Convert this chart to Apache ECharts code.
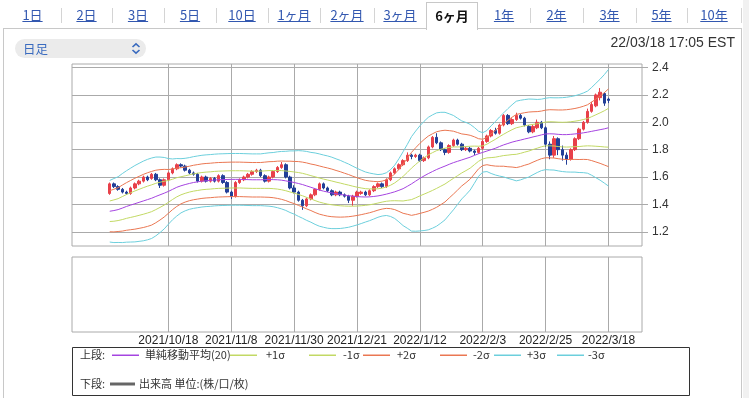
<!DOCTYPE html>
<html lang="ja">
<head>
<meta charset="utf-8">
<title>6ヶ月 日足チャート</title>
<script src="https://cdn.jsdelivr.net/npm/echarts@6.0.0/dist/echarts.min.js"></script>
<style>
html,body{margin:0;padding:0;background:#fff}
body{position:relative;width:749px;height:398px;overflow:hidden;font-family:"Noto Sans CJK JP","Liberation Sans",sans-serif}
#frame{position:absolute;left:3px;top:28px;width:739px;height:400px;border:1px solid #c8c8c8;box-sizing:border-box;z-index:0}
#edge{position:absolute;left:743px;top:0;width:6px;height:398px;background:#f1f1f1}
#chart{position:absolute;left:0;top:0;width:749px;height:398px;z-index:1}
.tab{position:absolute;top:5px;height:20px;line-height:20px;text-align:center;font-size:13px;color:#3358b0;text-decoration:underline;white-space:nowrap;z-index:2}
.tab.on{top:2px;height:27px;line-height:25px;background:#fff;border:1px solid #c8c8c8;border-bottom:0;color:#111;font-weight:bold;text-decoration:none}
.sep{position:absolute;top:8px;width:1px;height:15px;background:#d4d4d4;z-index:2}
#pick{position:absolute;left:15px;top:39px;width:131px;height:19px;border-radius:10px;background:#ebebeb;z-index:3}
#pick span{position:absolute;left:8px;top:0;line-height:19px;font-size:12.5px;color:#3a6bbf}
#pick svg{position:absolute;left:115px;top:3px}
#stamp{position:absolute;right:14px;top:34px;font-size:14px;line-height:17px;font-family:"Liberation Sans",sans-serif;color:#333;z-index:3}
</style>
</head>
<body>
<div id="frame"></div>
<div id="edge"></div>
<div id="tabs"></div>
<div id="pick"><span>日足</span><svg width="12" height="13" viewBox="0 0 12 13"><path d="M2.5 5 L6 1.8 L9.5 5 M2.5 8 L6 11.2 L9.5 8" fill="none" stroke="#3a6bbf" stroke-width="1.6"/></svg></div>
<div id="stamp">22/03/18 17:05 EST</div>
<div id="chart"></div>
<script>
// タブ
var tabNames = ['1日', '2日', '3日', '5日', '10日', '1ヶ月', '2ヶ月', '3ヶ月', '6ヶ月', '1年', '2年', '3年', '5年', '10年'];
var activeTab = '6ヶ月';
var tabEdges = [4, 61, 112, 164, 216, 268, 320, 374, 426, 478, 530, 583, 636, 687, 741];

// 営業日（データなしの前後の枠も含む）
var leadDates = ['2021/9/15', '2021/9/16', '2021/9/17', '2021/9/20', '2021/9/21', '2021/9/22', '2021/9/23', '2021/9/24', '2021/9/27'];
var tradeDays = [
  ['2021/9', [28, 29, 30]],
  ['2021/10', [1, 4, 5, 6, 7, 8, 11, 12, 13, 14, 15, 18, 19, 20, 21, 22, 25, 26, 27, 28, 29]],
  ['2021/11', [1, 2, 3, 4, 5, 8, 9, 10, 11, 12, 15, 16, 17, 18, 19, 22, 23, 24, 26, 29, 30]],
  ['2021/12', [1, 2, 3, 6, 7, 8, 9, 10, 13, 14, 15, 16, 17, 20, 21, 22, 23, 27, 28, 29, 30, 31]],
  ['2022/1', [3, 4, 5, 6, 7, 10, 11, 12, 13, 14, 18, 19, 20, 21, 24, 25, 26, 27, 28, 31]],
  ['2022/2', [1, 2, 3, 4, 7, 8, 9, 10, 11, 14, 15, 16, 17, 18, 22, 23, 24, 25, 28]],
  ['2022/3', [1, 2, 3, 4, 7, 8, 9, 10, 11, 14, 15, 16, 17, 18]]
];
var tailDates = ['2022/3/21', '2022/3/22', '2022/3/23', '2022/3/24', '2022/3/25', '2022/3/28', '2022/3/29', '2022/3/30'];

var tickDates = ['2021/10/18', '2021/11/8', '2021/11/30', '2021/12/21', '2022/1/12', '2022/2/3', '2022/2/25', '2022/3/18'];
var yTicks = [1.2, 1.4, 1.6, 1.8, 2.0, 2.2, 2.4];

// 始値, 終値, 安値, 高値
var ohlc = [
  [1.48,1.55,1.47,1.56],[1.55,1.53,1.52,1.56],[1.53,1.51,1.50,1.54],[1.51,1.49,1.48,1.52],[1.49,1.48,1.47,1.50],
  [1.48,1.52,1.47,1.53],[1.52,1.55,1.51,1.56],[1.55,1.57,1.54,1.58],[1.57,1.60,1.56,1.61],[1.60,1.58,1.57,1.61],
  [1.59,1.62,1.58,1.63],[1.62,1.58,1.57,1.63],[1.58,1.54,1.52,1.59],[1.54,1.58,1.53,1.59],[1.58,1.63,1.57,1.64],
  [1.63,1.66,1.62,1.67],[1.66,1.69,1.65,1.70],[1.69,1.68,1.67,1.70],[1.68,1.65,1.64,1.69],[1.65,1.63,1.62,1.66],
  [1.63,1.62,1.61,1.64],[1.62,1.57,1.56,1.63],[1.57,1.60,1.56,1.61],[1.60,1.57,1.56,1.61],[1.57,1.59,1.56,1.60],
  [1.59,1.57,1.56,1.60],[1.57,1.61,1.56,1.62],[1.61,1.56,1.55,1.62],[1.56,1.49,1.48,1.57],[1.49,1.46,1.44,1.50],
  [1.46,1.56,1.45,1.57],[1.56,1.58,1.55,1.59],[1.58,1.60,1.57,1.61],[1.60,1.62,1.59,1.63],[1.62,1.64,1.61,1.65],
  [1.64,1.65,1.63,1.66],[1.65,1.61,1.60,1.66],[1.61,1.57,1.56,1.62],[1.57,1.60,1.56,1.61],[1.60,1.64,1.59,1.65],
  [1.64,1.67,1.63,1.68],[1.67,1.69,1.66,1.71],[1.69,1.60,1.59,1.70],[1.60,1.52,1.51,1.61],[1.52,1.49,1.48,1.54],
  [1.49,1.43,1.42,1.50],[1.43,1.39,1.36,1.44],[1.39,1.44,1.38,1.45],[1.44,1.47,1.43,1.48],[1.47,1.51,1.46,1.52],
  [1.51,1.55,1.50,1.56],[1.55,1.52,1.51,1.56],[1.52,1.50,1.49,1.53],[1.50,1.47,1.46,1.51],[1.47,1.49,1.46,1.50],
  [1.49,1.47,1.46,1.50],[1.47,1.46,1.45,1.48],[1.46,1.43,1.41,1.47],[1.43,1.46,1.39,1.47],[1.46,1.49,1.45,1.50],
  [1.48,1.49,1.47,1.50],[1.49,1.47,1.46,1.50],[1.47,1.50,1.46,1.51],[1.50,1.53,1.49,1.54],[1.53,1.55,1.52,1.56],
  [1.55,1.53,1.52,1.56],[1.53,1.58,1.52,1.59],[1.58,1.63,1.57,1.64],[1.63,1.66,1.62,1.67],[1.66,1.69,1.65,1.70],
  [1.69,1.72,1.68,1.73],[1.72,1.76,1.71,1.78],[1.76,1.75,1.73,1.77],[1.75,1.76,1.74,1.77],[1.76,1.72,1.71,1.77],
  [1.72,1.74,1.71,1.75],[1.74,1.82,1.73,1.83],[1.82,1.89,1.81,1.90],[1.89,1.85,1.84,1.92],[1.85,1.80,1.79,1.86],
  [1.80,1.78,1.76,1.81],[1.78,1.83,1.77,1.84],[1.83,1.87,1.82,1.88],[1.87,1.84,1.83,1.88],[1.84,1.80,1.79,1.85],
  [1.80,1.81,1.79,1.82],[1.81,1.79,1.78,1.82],[1.79,1.78,1.76,1.80],[1.78,1.81,1.77,1.82],[1.81,1.86,1.80,1.87],
  [1.86,1.90,1.85,1.91],[1.90,1.94,1.89,1.95],[1.94,1.92,1.91,1.96],[1.92,1.98,1.91,1.99],[1.98,2.05,1.97,2.06],
  [2.05,1.99,1.98,2.06],[1.99,2.02,1.98,2.03],[2.02,2.05,2.01,2.07],[2.05,2.03,2.02,2.06],[2.03,1.98,1.97,2.04],
  [1.97,1.93,1.92,1.98],[1.93,1.97,1.92,1.98],[1.96,2.00,1.95,2.02],[2.00,1.96,1.95,2.01],[1.96,1.84,1.82,1.97],
  [1.84,1.76,1.73,1.86],[1.76,1.88,1.74,1.90],[1.88,1.80,1.76,1.89],[1.80,1.76,1.72,1.83],[1.76,1.73,1.69,1.78],
  [1.73,1.80,1.72,1.81],[1.80,1.88,1.79,1.89],[1.88,1.95,1.87,1.96],[1.95,2.00,1.94,2.01],[2.00,2.08,1.99,2.10],
  [2.08,2.13,2.07,2.15],[2.12,2.20,2.11,2.21],[2.18,2.22,2.16,2.25],[2.21,2.14,2.12,2.22],[2.17,2.16,2.14,2.18]
];

// 単純移動平均(20)
var sma = [
  1.350,1.355,1.362,1.373,1.385,1.395,1.405,1.415,1.425,1.435,
  1.445,1.458,1.470,1.482,1.495,1.510,1.525,1.536,1.545,1.553,
  1.560,1.565,1.570,1.573,1.575,1.578,1.580,1.581,1.582,1.583,
  1.583,1.583,1.582,1.581,1.580,1.580,1.580,1.581,1.582,1.581,
  1.580,1.577,1.572,1.566,1.560,1.553,1.545,1.535,1.525,1.515,
  1.505,1.497,1.490,1.484,1.478,1.473,1.468,1.464,1.460,1.457,
  1.455,1.454,1.455,1.458,1.462,1.468,1.475,1.483,1.492,1.503,
  1.515,1.532,1.550,1.570,1.590,1.608,1.625,1.640,1.655,1.668,
  1.680,1.693,1.705,1.715,1.725,1.735,1.745,1.758,1.770,1.780,
  1.790,1.800,1.810,1.823,1.835,1.845,1.855,1.863,1.870,1.878,
  1.885,1.893,1.900,1.908,1.915,1.916,1.915,1.912,1.910,1.910,
  1.912,1.915,1.918,1.923,1.928,1.934,1.940,1.946,1.952,1.960
];
// σ（バンド幅から読み取り）
var sigma = [
  .075,.078,.080,.084,.087,.090,.093,.095,.097,.098,
  .098,.096,.092,.087,.080,.074,.070,.066,.064,.063,
  .063,.063,.063,.063,.063,.063,.063,.063,.063,.063,
  .063,.063,.063,.063,.063,.063,.063,.064,.065,.066,
  .068,.070,.072,.075,.077,.080,.082,.084,.085,.087,
  .088,.088,.088,.087,.085,.083,.080,.077,.073,.069,
  .065,.061,.058,.055,.052,.051,.052,.057,.065,.077,
  .090,.102,.115,.122,.128,.133,.137,.138,.138,.135,
  .131,.123,.115,.105,.095,.088,.080,.068,.055,.048,
  .050,.058,.065,.072,.078,.085,.091,.097,.097,.096,
  .095,.092,.089,.087,.087,.088,.088,.089,.090,.091,
  .092,.093,.095,.097,.100,.107,.115,.123,.132,.142
];

var lineDefs = [
  { name: '単純移動平均(20)', k: 0, color: '#a544e0' },
  { name: '+1σ', k: 1, color: '#c2d964' },
  { name: '-1σ', k: -1, color: '#c2d964' },
  { name: '+2σ', k: 2, color: '#ea7752' },
  { name: '-2σ', k: -2, color: '#ea7752' },
  { name: '+3σ', k: 3, color: '#6ccfdc' },
  { name: '-3σ', k: -3, color: '#6ccfdc' }
];
var upColor = '#e8404a';
var downColor = '#233f98';
var gridColor = '#aaaaaa';

// 生成
var dates = [];
tradeDays.forEach(function (m) {
  m[1].forEach(function (d) { dates.push(m[0] + '/' + d) });
});
var categories = leadDates.concat(dates, tailDates);
function pad(arr) {
  return leadDates.map(function () { return '-' }).concat(arr, tailDates.map(function () { return '-' }));
}
function isTick(idx, val) { return tickDates.indexOf(val) >= 0 }

var tabs = document.getElementById('tabs');
tabNames.forEach(function (name, i) {
  var l = tabEdges[i], r = tabEdges[i + 1];
  var el = document.createElement('div');
  el.className = 'tab' + (name === activeTab ? ' on' : '');
  el.style.left = l + 'px';
  el.style.width = (name === activeTab ? r - l - 2 : r - l) + 'px';
  el.textContent = name;
  tabs.appendChild(el);
});
var activeIdx = tabNames.indexOf(activeTab);
tabEdges.forEach(function (x, i) {
  if (i === 0 || i === activeIdx || i === activeIdx + 1) return;
  var s = document.createElement('div');
  s.className = 'sep';
  s.style.left = x + 'px';
  tabs.appendChild(s);
});

var series = lineDefs.map(function (d) {
  return {
    name: d.name,
    type: 'line',
    xAxisIndex: 0,
    yAxisIndex: 0,
    data: pad(sma.map(function (m, i) { return +(m + d.k * sigma[i]).toFixed(4) })),
    showSymbol: false,
    symbol: 'none',
    silent: true,
    lineStyle: { width: 1, color: d.color },
    itemStyle: { color: d.color }
  };
});
series.push({
  name: '株価',
  type: 'candlestick',
  xAxisIndex: 0,
  yAxisIndex: 0,
  data: pad(ohlc),
  barWidth: 3,
  silent: true,
  itemStyle: { color: upColor, color0: downColor, borderColor: upColor, borderColor0: downColor, borderWidth: 1 }
});
series.push({ name: '出来高', type: 'bar', xAxisIndex: 1, yAxisIndex: 1, data: [] });

// 凡例
var font11 = '11px "Noto Sans CJK JP", sans-serif';
var legendSlots = [[112, 145], [230, 266], [309, 343], [363, 397], [440, 473], [494, 527], [557, 588]];
var row1 = 355, row2 = 384;
var graphic = [
  { type: 'rect', shape: { x: 72.5, y: 347.5, width: 617, height: 48 }, style: { fill: '#fff', stroke: '#333', lineWidth: 1 }, silent: true },
  { type: 'text', x: 80, y: row1, style: { text: '上段:', font: font11, fill: '#333', verticalAlign: 'middle' } },
  { type: 'text', x: 80, y: row2, style: { text: '下段:', font: font11, fill: '#333', verticalAlign: 'middle' } },
  { type: 'rect', shape: { x: 110, y: row2 - 1.5, width: 25, height: 3 }, style: { fill: '#666' } },
  { type: 'text', x: 139, y: row2, style: { text: '出来高 単位:(株/口/枚)', font: font11, fill: '#333', verticalAlign: 'middle' } }
];
lineDefs.forEach(function (d, i) {
  var s = legendSlots[i];
  graphic.push({ type: 'rect', shape: { x: s[0], y: row1 - 0.5, width: 27, height: 1.5 }, style: { fill: d.color } });
  graphic.push({ type: 'text', x: s[1], y: row1, style: { text: d.name, font: font11, fill: '#333', verticalAlign: 'middle' } });
});

var chart = echarts.init(document.getElementById('chart'));
chart.setOption({
  animation: false,
  grid: [
    { left: 72, right: 107, top: 64, height: 182, show: true, borderColor: gridColor, borderWidth: 1 },
    { left: 72, right: 107, top: 257, height: 75, show: true, borderColor: gridColor, borderWidth: 1 }
  ],
  xAxis: [
    {
      type: 'category', gridIndex: 0, data: categories, boundaryGap: false,
      axisLine: { show: false }, axisTick: { show: false }, axisLabel: { show: false },
      splitLine: { show: true, interval: isTick, lineStyle: { color: gridColor, width: 1 } }
    },
    {
      type: 'category', gridIndex: 1, data: categories, boundaryGap: false,
      axisLine: { show: false }, axisTick: { show: false },
      axisLabel: { interval: isTick, margin: 3, color: '#222', fontSize: 12, fontFamily: 'Liberation Sans' },
      splitLine: { show: true, interval: isTick, lineStyle: { color: gridColor, width: 1 } }
    }
  ],
  yAxis: [
    {
      type: 'value', gridIndex: 0, position: 'right', min: 1.096, max: 2.426, splitNumber: 6, scale: true,
      axisLine: { show: false },
      axisTick: { show: true, inside: false, length: 6, customValues: yTicks, lineStyle: { color: gridColor } },
      axisLabel: {
        customValues: yTicks, margin: 10, color: '#333', fontSize: 12, fontFamily: 'Liberation Sans',
        formatter: function (v) { return v.toFixed(1) }
      },
      splitLine: { show: true, lineStyle: { color: gridColor, width: 1 } }
    },
    {
      type: 'value', gridIndex: 1, position: 'right',
      axisLine: { show: false }, axisTick: { show: false }, axisLabel: { show: false }, splitLine: { show: false }
    }
  ],
  graphic: graphic,
  series: series
});
</script>
</body>
</html>
